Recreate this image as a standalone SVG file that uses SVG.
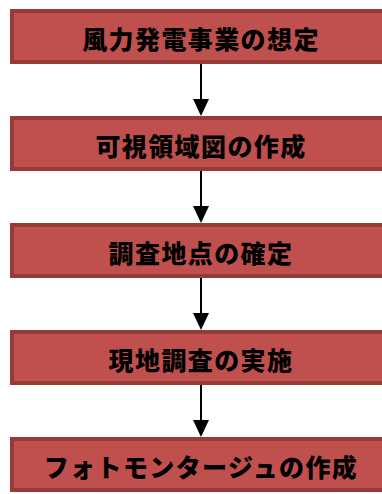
<svg xmlns="http://www.w3.org/2000/svg" width="382" height="494" viewBox="0 0 382 494">
<style>
.box{fill:#C0504D;stroke:#983A38;stroke-width:4}
.lbl{font-family:"Noto Sans CJK JP","Noto Sans CJK SC",sans-serif;font-weight:900;font-size:25px;letter-spacing:1.4px;fill:#000;text-anchor:middle}
.conn{stroke:#000;stroke-width:2;fill:none}
.head{fill:#000}
</style>
<rect width="382" height="494" fill="#fff"/>
<g id="connectors">
<line class="conn" x1="201" y1="64" x2="201" y2="100"/><path class="head" d="M193,99 L209,99 L201,116 Z"/>
<line class="conn" x1="201" y1="171" x2="201" y2="207"/><path class="head" d="M193,206 L209,206 L201,223 Z"/>
<line class="conn" x1="201" y1="278" x2="201" y2="314"/><path class="head" d="M193,313 L209,313 L201,330 Z"/>
<line class="conn" x1="201" y1="385" x2="201" y2="421"/><path class="head" d="M193,420 L209,420 L201,437 Z"/>
</g>
<g id="n1"><rect class="box" x="12" y="11" width="400" height="51"/><text class="lbl" x="201" y="49">風力発電事業の想定</text></g>
<g id="n2"><rect class="box" x="12" y="118" width="400" height="51"/><text class="lbl" x="201" y="156">可視領域図の作成</text></g>
<g id="n3"><rect class="box" x="12" y="225" width="400" height="51"/><text class="lbl" x="201" y="263">調査地点の確定</text></g>
<g id="n4"><rect class="box" x="12" y="332" width="400" height="51"/><text class="lbl" x="201" y="370">現地調査の実施</text></g>
<g id="n5"><rect class="box" x="12" y="439" width="400" height="51"/><text class="lbl" x="201" y="477">フォトモンタージュの作成</text></g>
</svg>
